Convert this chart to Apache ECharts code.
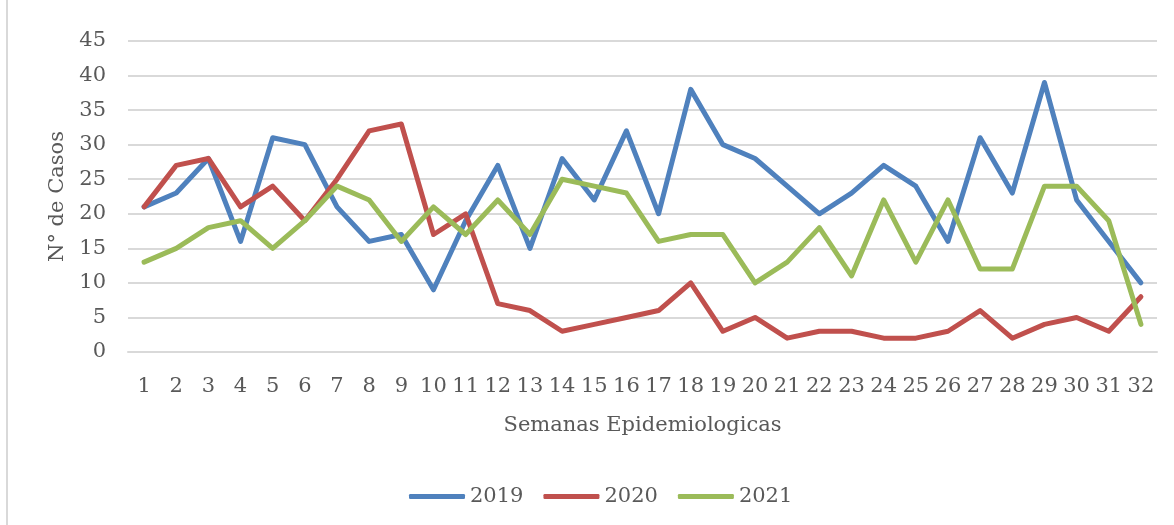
<!DOCTYPE html>
<html>
<head>
<meta charset="utf-8">
<script src="https://cdn.jsdelivr.net/npm/echarts@6/dist/echarts.min.js"></script>
<style>
html,body{margin:0;padding:0;background:#fff;}
#chart{width:1174px;height:525px;}
</style>
</head>
<body>
<div id="chart"></div>
<script>
const weeks = ['1','2','3','4','5','6','7','8','9','10','11','12','13','14','15','16','17','18','19','20','21','22','23','24','25','26','27','28','29','30','31','32'];
const y2019 = [21,23,28,16,31,30,21,16,17,9,19,27,15,28,22,32,20,38,30,28,24,20,23,27,24,16,31,23,39,22,16,10];
const y2020 = [21,27,28,21,24,19,25,32,33,17,20,7,6,3,4,5,6,10,3,5,2,3,3,2,2,3,6,2,4,5,3,8];
const y2021 = [13,15,18,19,15,19,24,22,16,21,17,22,17,25,24,23,16,17,17,10,13,18,11,22,13,22,12,12,24,24,19,4];
const yTicks = [0,5,10,15,20,25,30,35,40,45];

const FONT = 'DejaVu Serif';
const TXT = '#595959';
function mk(name, data, color){
  return {name, type:'line', data, showSymbol:false, symbol:'none',
    lineStyle:{color, width:5, cap:'round', join:'round'}, itemStyle:{color}};
}
const chart = echarts.init(document.getElementById('chart'));
chart.setOption({
  animation:false,
  backgroundColor:'#fff',
  graphic:[
    {type:'line', shape:{x1:7,y1:0,x2:7,y2:525}, style:{stroke:'#D9D9D9', lineWidth:2}}
  ],
  grid:{left:128, right:17, top:41, bottom:173, containLabel:false},
  legend:{
    bottom:18, left:409, padding:0, itemWidth:56, itemHeight:5, itemGap:20, icon:'roundRect',
    textStyle:{fontFamily:FONT, fontSize:21, color:TXT},
    data:['2019','2020','2021']
  },
  xAxis:{
    type:'category', data:weeks, boundaryGap:true,
    name:'Semanas Epidemiologicas', nameLocation:'middle', nameGap:63,
    nameTextStyle:{fontFamily:FONT, fontSize:21, color:TXT},
    axisLine:{lineStyle:{color:'#D9D9D9', width:2}},
    axisTick:{show:false},
    axisLabel:{interval:0, fontFamily:FONT, fontSize:21, color:TXT, margin:24}
  },
  yAxis:{
    type:'value', min:yTicks[0], max:yTicks[yTicks.length-1], interval:5,
    name:'N° de Casos', nameLocation:'middle', nameGap:60,
    nameTextStyle:{fontFamily:FONT, fontSize:21, color:TXT},
    axisLine:{show:false}, axisTick:{show:false},
    axisLabel:{fontFamily:FONT, fontSize:21, color:TXT, margin:22},
    splitLine:{lineStyle:{color:'#D9D9D9', width:2}}
  },
  series:[mk('2019',y2019,'#4F81BD'), mk('2020',y2020,'#C0504D'), mk('2021',y2021,'#9BBB59')]
});
</script>
</body>
</html>
